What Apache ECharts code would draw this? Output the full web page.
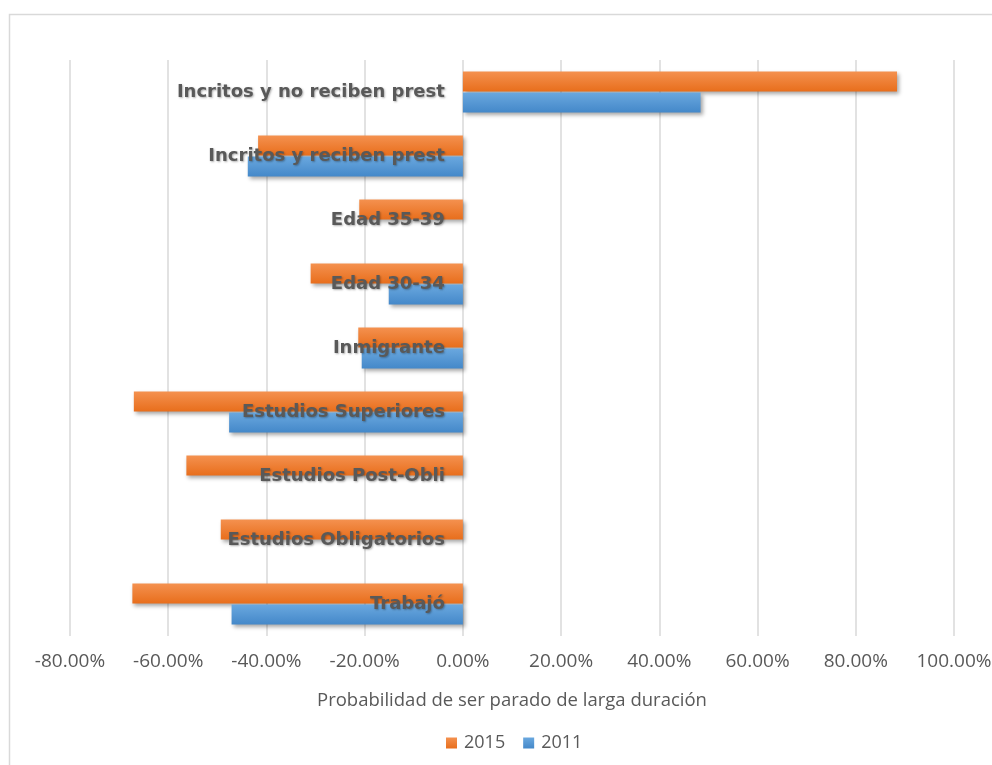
<!DOCTYPE html>
<html>
<head>
<meta charset="utf-8">
<script src="https://cdn.jsdelivr.net/npm/echarts@6/dist/echarts.min.js"></script>
<style>
html,body{margin:0;padding:0;background:#fff;}
#chart{width:992px;height:765px;}
</style>
</head>
<body>
<div id="chart"></div>
<script>
const categories = ['Trabajó','Estudios Obligatorios','Estudios Post-Obli','Estudios Superiores','Inmigrante','Edad 30-34','Edad 35-39','Incritos y reciben prest','Incritos y no reciben prest'];
const series2015 = [-67.3, -49.3, -56.3, -67.0, -21.3, -31.0, -21.1, -41.7, 88.4];
const series2011 = [-47.1, null, null, -47.6, -20.6, -15.1, null, -43.8, 48.4];
const seriesNames = ['2015', '2011'];
const xMin = -80, xMax = 100, xStep = 20;

const W = 992, gridLeft = 70, gridRight = 38;
const gridWidth = W - gridLeft - gridRight;
// place the category axis at value 0 of the value axis
const zeroOffset = -((0 - xMin) / (xMax - xMin)) * gridWidth;

const chart = echarts.init(document.getElementById('chart'));
const grad = (a, b) => new echarts.graphic.LinearGradient(0, 0, 0, 1, [{offset:0,color:a},{offset:1,color:b}]);
const shadow = {shadowColor:'rgba(0,0,0,0.35)', shadowBlur:4, shadowOffsetX:2, shadowOffsetY:2};

chart.setOption({
  animation: false,
  backgroundColor: '#fff',
  graphic: [{
    type: 'rect', left: 7, top: 12, z: -10,
    shape: {width: 1000, height: 800},
    style: {fill: 'none', stroke: '#d9d9d9', lineWidth: 1.5}
  }],
  legend: {
    data: seriesNames,
    top: 729, left: 441,
    itemWidth: 11, itemHeight: 11, itemGap: 18,
    icon: 'rect',
    textStyle: {color: '#595959', fontSize: 18, fontFamily: 'Open Sans', padding: [0, 0, 0, 2]}
  },
  grid: {left: gridLeft, right: gridRight, top: 60, bottom: 129, containLabel: false, outerBoundsMode: 'none'},
  xAxis: {
    type: 'value', min: xMin, max: xMax, interval: xStep,
    name: 'Probabilidad de ser parado de larga duración',
    nameLocation: 'middle', nameGap: 55,
    nameTextStyle: {color: '#595959', fontSize: 18.5, fontFamily: 'Open Sans'},
    axisLine: {show: false}, axisTick: {show: false},
    axisLabel: {color: '#595959', fontSize: 19, fontFamily: 'Open Sans', margin: 16,
      formatter: v => v.toFixed(2) + '%'},
    splitLine: {show: true, lineStyle: {color: '#d9d9d9', width: 1.5}}
  },
  yAxis: {
    type: 'category', data: categories, z: 5,
    position: 'left', offset: zeroOffset,
    axisLine: {show: false, onZero: false},
    axisTick: {show: false},
    splitLine: {show: false},
    axisLabel: {color: '#595959', fontSize: 18, fontWeight: 'bold', fontFamily: 'DejaVu Sans', margin: 18,
      textShadowColor: 'rgba(0,0,0,0.3)', textShadowBlur: 2, textShadowOffsetX: 1, textShadowOffsetY: 1}
  },
  series: [
    {name: '2015', type: 'bar', data: series2015, barWidth: 20, barGap: '5%',
     itemStyle: Object.assign({color: grad('#F4914F', '#E86E1C')}, shadow)},
    {name: '2011', type: 'bar', data: series2011, barWidth: 20, barGap: '5%',
     itemStyle: Object.assign({color: grad('#6AA8DF', '#4488C9')}, shadow)}
  ]
});
</script>
</body>
</html>
